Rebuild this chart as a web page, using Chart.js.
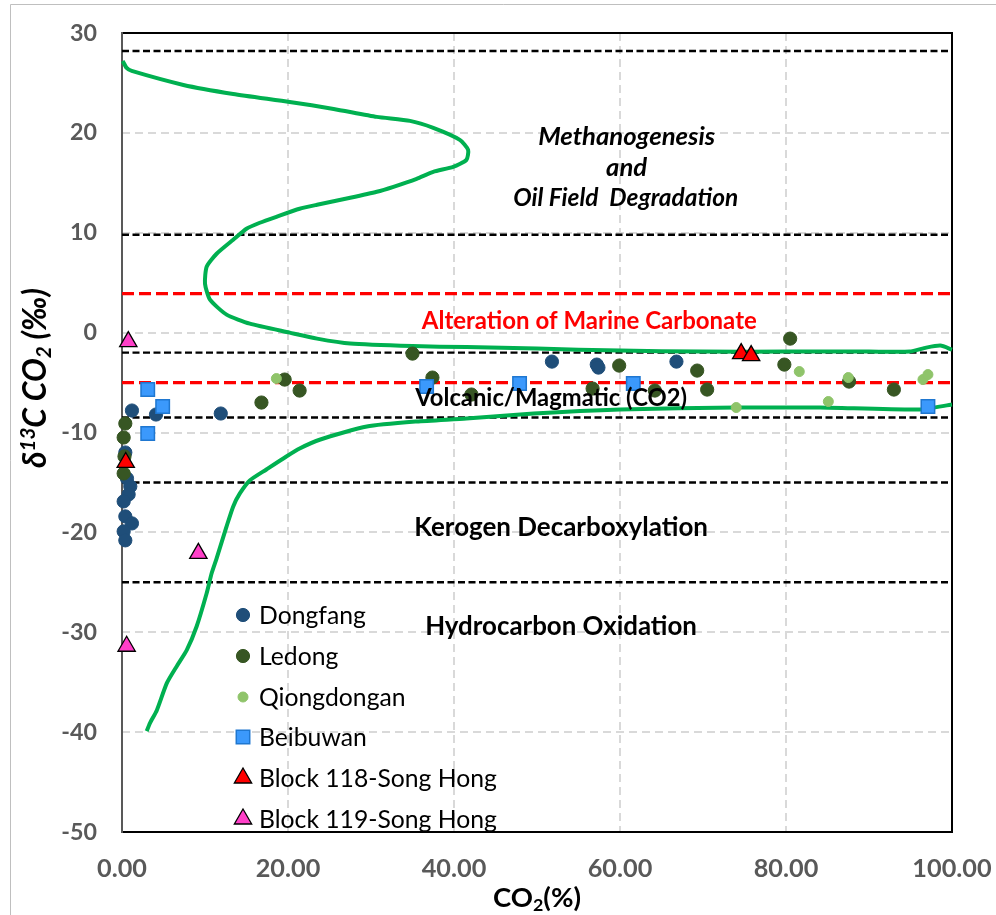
<!DOCTYPE html>
<html><head><meta charset="utf-8">
<script src="https://cdn.jsdelivr.net/npm/chart.js@4.4.0/dist/chart.umd.min.js"></script>
<style>html,body{margin:0;padding:0;background:#fff}#wrap{width:996px;height:915px;position:relative}</style>
</head><body><div id="wrap"><canvas id="c" width="996" height="915"></canvas></div>
<script>
// ---------- DATA ----------
const xTickValues = [0, 20, 40, 60, 80, 100];
const yTickValues = [-50, -40, -30, -20, -10, 0, 10, 20, 30];

const seriesNames = ['Dongfang', 'Ledong', 'Qiongdongan', 'Beibuwan', 'Block 118-Song Hong', 'Block 119-Song Hong'];

const dongfangX = [1.2, 4.1, 11.9, 51.8, 57.2, 57.4, 66.8, 0.4, 0.6, 1.0, 0.8, 0.2, 0.4, 1.2, 0.2, 0.4];
const dongfangY = [-7.8, -8.2, -8.1, -2.9, -3.2, -3.5, -2.9, -12.0, -14.6, -15.4, -16.2, -16.9, -18.4, -19.1, -19.9, -20.8];

const ledongX = [0.4, 0.2, 0.3, 0.2, 16.8, 19.6, 21.4, 35.0, 37.4, 42.1, 56.7, 59.9, 64.2, 69.3, 70.5, 79.8, 80.5, 87.6, 93.0];
const ledongY = [-9.1, -10.5, -12.4, -14.1, -7.0, -4.7, -5.8, -2.1, -4.5, -6.2, -5.6, -3.3, -5.8, -3.8, -5.7, -3.2, -0.6, -4.9, -5.7];

const qiongX = [18.6, 74.0, 81.6, 85.1, 87.5, 96.5, 97.1];
const qiongY = [-4.6, -7.5, -3.9, -6.9, -4.5, -4.7, -4.2];

const beibuX = [3.1, 4.9, 3.1, 36.7, 47.9, 61.6, 97.1];
const beibuY = [-5.7, -7.4, -10.1, -5.4, -5.1, -5.1, -7.4];

const b118X = [0.45, 74.6, 75.8];
const b118Y = [-13.0, -2.1, -2.3];

const b119X = [0.76, 9.2, 0.56];
const b119Y = [-0.9, -22.1, -31.4];

// green envelope: upper branch
const upperX = [0.08, 0.56, 1.17, 7.4, 13.4, 20.2, 25.5, 30.7, 34.7, 37.5, 40.7, 41.7, 41.5, 39.9, 37.5, 35.5, 32.7, 30.7, 27.5, 23.5, 21.4, 18.6, 16.6, 15.0, 13.4, 11.4, 10.2, 10.0, 10.6, 12.6, 15.4, 20.2, 23.5, 27.5, 35.0, 41.5, 50.0, 60.0, 70.0, 80.0, 90.0, 94.9, 96.9, 98.6, 100];
const upperY = [27.2, 26.5, 26.2, 24.8, 23.9, 23.1, 22.4, 21.6, 21.2, 20.5, 19.3, 18.3, 17.3, 16.6, 16.1, 15.4, 14.6, 14.1, 13.5, 12.8, 12.4, 11.6, 11.0, 10.4, 9.3, 7.9, 6.6, 4.9, 3.3, 1.8, 0.9, 0.0, -0.6, -1.1, -1.35, -1.45, -1.6, -1.8, -1.9, -1.9, -1.9, -1.9, -1.5, -1.3, -1.7];
// green envelope: lower branch
const lowerX = [2.97, 3.37, 4.2, 5.4, 6.6, 7.8, 9.0, 10.2, 10.8, 11.4, 12.6, 13.4, 14.2, 15.4, 17.4, 19.8, 21.4, 23.9, 29.5, 35.5, 41.5, 49.6, 60.0, 74.1, 84.1, 96.1, 100];
const lowerY = [-39.9, -39.1, -37.8, -35.1, -33.4, -31.8, -29.4, -26.1, -24.1, -22.6, -19.4, -17.4, -16.1, -14.8, -13.7, -12.4, -11.6, -10.7, -9.4, -8.9, -8.6, -8.1, -7.7, -7.5, -7.5, -7.7, -7.2];

// reference boundaries
const blackLineY = [28.2, 9.8, -2.0, -8.5, -15.0, -25.0];
const redLineY = [3.9, -5.0];

// zone labels
const zoneTexts = ['Methanogenesis', 'and', 'Oil Field  Degradation', 'Alteration of Marine Carbonate', 'Volcanic/Magmatic (CO2)', 'Kerogen Decarboxylation', 'Hydrocarbon Oxidation'];
const zoneX = [60.8, 60.8, 60.7, 56.3, 51.7, 52.9, 52.9];
const zoneY = [19.6, 16.5, 13.5, 1.1, -6.6, -19.5, -29.4];

// ---------- HELPERS ----------
const FAM = 'Lato, "Open Sans", sans-serif';
const mctx = document.createElement('canvas').getContext('2d');
function fitSize(text, style, target) {
  mctx.font = style + ' 100px ' + FAM;
  return 100 * target / mctx.measureText(text).width;
}
const pts = (xs, ys) => xs.map((x, i) => ({x: x, y: ys[i]}));
const hline = (y) => [{x: 0, y: y}, {x: 100, y: y}];

const yTickSize = fitSize('30', 'bold', 27);
const xTickSize = fitSize('0.00', 'bold', 50);
const legendSize = fitSize('Block 119-Song Hong', 'normal', 238);

const datasets = [];
const markerStyles = [
  {pointStyle: 'circle', r: 6.6, bg: '#1f4e79', bc: '#1f4e79', bw: 1},
  {pointStyle: 'circle', r: 6.6, bg: '#375623', bc: '#375623', bw: 1},
  {pointStyle: 'circle', r: 5, bg: '#8fc46a', bc: '#8fc46a', bw: 1},
  {pointStyle: 'rect', r: 9.5, bg: '#3b99fc', bc: '#1f77d0', bw: 1.5},
  {pointStyle: 'triangle', r: 10, bg: '#ff0000', bc: '#000000', bw: 1.3},
  {pointStyle: 'triangle', r: 10, bg: '#ff3fc8', bc: '#000000', bw: 1.3}
];
const seriesData = [pts(dongfangX, dongfangY), pts(ledongX, ledongY), pts(qiongX, qiongY), pts(beibuX, beibuY), pts(b118X, b118Y), pts(b119X, b119Y)];
seriesNames.forEach((name, i) => {
  const s = markerStyles[i];
  datasets.push({
    label: name, data: seriesData[i], showLine: false,
    pointStyle: s.pointStyle, pointRadius: s.r, pointBackgroundColor: s.bg,
    pointBorderColor: s.bc, pointBorderWidth: s.bw, backgroundColor: s.bg, borderColor: s.bc,
    order: 10 - i, clip: false, isSeries: true
  });
});
datasets.push({label: '_upper', data: pts(upperX, upperY), showLine: true, borderColor: '#00b050', borderWidth: 4, pointRadius: 0, tension: 0.2, order: 20, clip: false});
datasets.push({label: '_lower', data: pts(lowerX, lowerY), showLine: true, borderColor: '#00b050', borderWidth: 4, pointRadius: 0, tension: 0.2, order: 20, clip: false});
blackLineY.forEach(y => datasets.push({label: '_b', data: hline(y), showLine: true, borderColor: '#000', borderWidth: 2.4, borderDash: [7, 3.5], pointRadius: 0, order: 30, clip: false}));
redLineY.forEach(y => datasets.push({label: '_r', data: hline(y), showLine: true, borderColor: '#ff0000', borderWidth: 3.3, borderDash: [12, 5], pointRadius: 0, order: 30, clip: false}));

// ---------- PLUGINS ----------
function drawRich(ctx, parts, cx, cy, size, style, rot) {
  ctx.save();
  ctx.translate(cx, cy);
  if (rot) ctx.rotate(rot);
  let total = 0;
  const m = parts.map(p => {
    const s = (p.sup || p.sub) ? size * 0.65 : size;
    ctx.font = style + ' ' + s + 'px ' + FAM;
    const w = ctx.measureText(p.t).width;
    total += w;
    return {p: p, s: s, w: w};
  });
  let x = -total / 2;
  ctx.textBaseline = 'alphabetic';
  ctx.textAlign = 'left';
  ctx.fillStyle = '#000';
  const base = size * 0.36;
  m.forEach(o => {
    ctx.font = style + ' ' + o.s + 'px ' + FAM;
    let dy = 0;
    if (o.p.sup) dy = -size * 0.36;
    if (o.p.sub) dy = size * 0.16;
    ctx.fillText(o.p.t, x, base + dy);
    x += o.w;
  });
  ctx.restore();
}
function richWidth(parts, size, style) {
  let t = 0;
  parts.forEach(p => {
    const s = (p.sup || p.sub) ? size * 0.65 : size;
    mctx.font = style + ' ' + s + 'px ' + FAM;
    t += mctx.measureText(p.t).width;
  });
  return t;
}

const framePlugin = {
  id: 'frame',
  beforeDraw(chart) {
    const ctx = chart.ctx;
    ctx.save();
    ctx.fillStyle = '#fff';
    ctx.fillRect(0, 0, chart.width, chart.height);
    ctx.strokeStyle = '#bfbfbf';
    ctx.lineWidth = 1;
    ctx.beginPath();
    ctx.moveTo(10.5, 920); ctx.lineTo(10.5, 4.5); ctx.lineTo(1000, 4.5);
    ctx.stroke();
    ctx.restore();
  },
  beforeDatasetsDraw(chart) {
    const ctx = chart.ctx, a = chart.chartArea;
    ctx.save();
    ctx.lineWidth = 2;
    ctx.strokeStyle = '#000';
    ctx.beginPath();
    ctx.moveTo(a.left, a.top); ctx.lineTo(a.right, a.top); ctx.lineTo(a.right, a.bottom); ctx.lineTo(a.left, a.bottom);
    ctx.stroke();
    ctx.strokeStyle = '#595959';
    ctx.beginPath();
    ctx.moveTo(a.left, a.top - 1); ctx.lineTo(a.left, a.bottom + 1);
    ctx.stroke();
    ctx.restore();
  },
  afterDraw(chart) {
    const ctx = chart.ctx;
    const xs = chart.scales.x, ys = chart.scales.y;
    // zone labels
    const widths = [177, null, 225, 335, 272, 294, 272];
    const colors = ['#000', '#000', '#000', '#ff0000', '#000', '#000', '#000'];
    const styles = ['italic bold', 'italic bold', 'italic bold', 'bold', 'bold', 'bold', 'bold'];
    let prev = 20;
    zoneTexts.forEach((t, i) => {
      const size = widths[i] ? fitSize(t, styles[i], widths[i]) : prev;
      prev = size;
      ctx.save();
      ctx.font = styles[i] + ' ' + size + 'px ' + FAM;
      ctx.fillStyle = colors[i];
      ctx.textAlign = 'center';
      ctx.textBaseline = 'middle';
      ctx.fillText(t, xs.getPixelForValue(zoneX[i]), ys.getPixelForValue(zoneY[i]));
      ctx.restore();
    });
    // legend
    const rows = [615, 656, 697, 737, 778, 819];
    let k = 0;
    chart.data.datasets.forEach(ds => {
      if (!ds.isSeries) return;
      const y = rows[k++];
      ctx.save();
      ctx.fillStyle = ds.pointBackgroundColor;
      ctx.strokeStyle = ds.pointBorderColor;
      ctx.lineWidth = ds.pointBorderWidth;
      Chart.helpers.drawPoint(ctx, {pointStyle: ds.pointStyle, radius: ds.pointRadius, rotation: 0, borderWidth: ds.pointBorderWidth}, 243, y);
      ctx.fillStyle = '#000';
      ctx.font = 'normal ' + legendSize + 'px ' + FAM;
      ctx.textAlign = 'left';
      ctx.textBaseline = 'middle';
      ctx.fillText(ds.label, 259, y + 1);
      ctx.restore();
    });
    // axis titles
    const yParts = [{t: 'δ'}, {t: '13', sup: true}, {t: 'C CO'}, {t: '2', sub: true}, {t: ' (‰)'}];
    const ySize = 100 * 180 / richWidth(yParts, 100, 'italic bold');
    drawRich(ctx, yParts, 35, 378, ySize, 'italic bold', -Math.PI / 2);
    const xParts = [{t: 'CO'}, {t: '2', sub: true}, {t: '(%)'}];
    const xSize = 100 * 88 / richWidth(xParts, 100, 'bold');
    drawRich(ctx, xParts, 537, 897, xSize, 'bold', 0);
  }
};

// ---------- CHART ----------
new Chart(document.getElementById('c'), {
  type: 'scatter',
  data: {datasets: datasets},
  plugins: [framePlugin],
  options: {
    responsive: false,
    animation: false,
    devicePixelRatio: 1,
    layout: {padding: {left: 0, top: 33, right: 44, bottom: 0}},
    plugins: {legend: {display: false}, tooltip: {enabled: false}},
    scales: {
      x: {
        type: 'linear', min: 0, max: 100,
        afterFit(s) { s.height = 83; s.paddingLeft = 0; s.paddingRight = 0; },
        afterBuildTicks(s) { s.ticks = xTickValues.map(v => ({value: v})); },
        ticks: {autoSkip: false, maxRotation: 0, padding: 22, color: '#595959',
          font: {family: FAM, weight: 'bold', size: xTickSize},
          callback: v => Number(v).toFixed(2)},
        grid: {color: '#d9d9d9', lineWidth: 2, drawTicks: false, borderDash: [8, 5]},
        border: {display: false, dash: [8, 5]}
      },
      y: {
        type: 'linear', min: -50, max: 30,
        afterFit(s) { s.width = 122; s.paddingTop = 0; s.paddingBottom = 0; },
        afterBuildTicks(s) { s.ticks = yTickValues.map(v => ({value: v})); },
        ticks: {autoSkip: false, padding: 25, color: '#595959',
          font: {family: FAM, weight: 'bold', size: yTickSize},
          callback: v => String(v)},
        grid: {color: '#d9d9d9', lineWidth: 2, drawTicks: false, borderDash: [8, 5]},
        border: {display: false, dash: [8, 5]}
      }
    }
  }
});
</script>
</body></html>
